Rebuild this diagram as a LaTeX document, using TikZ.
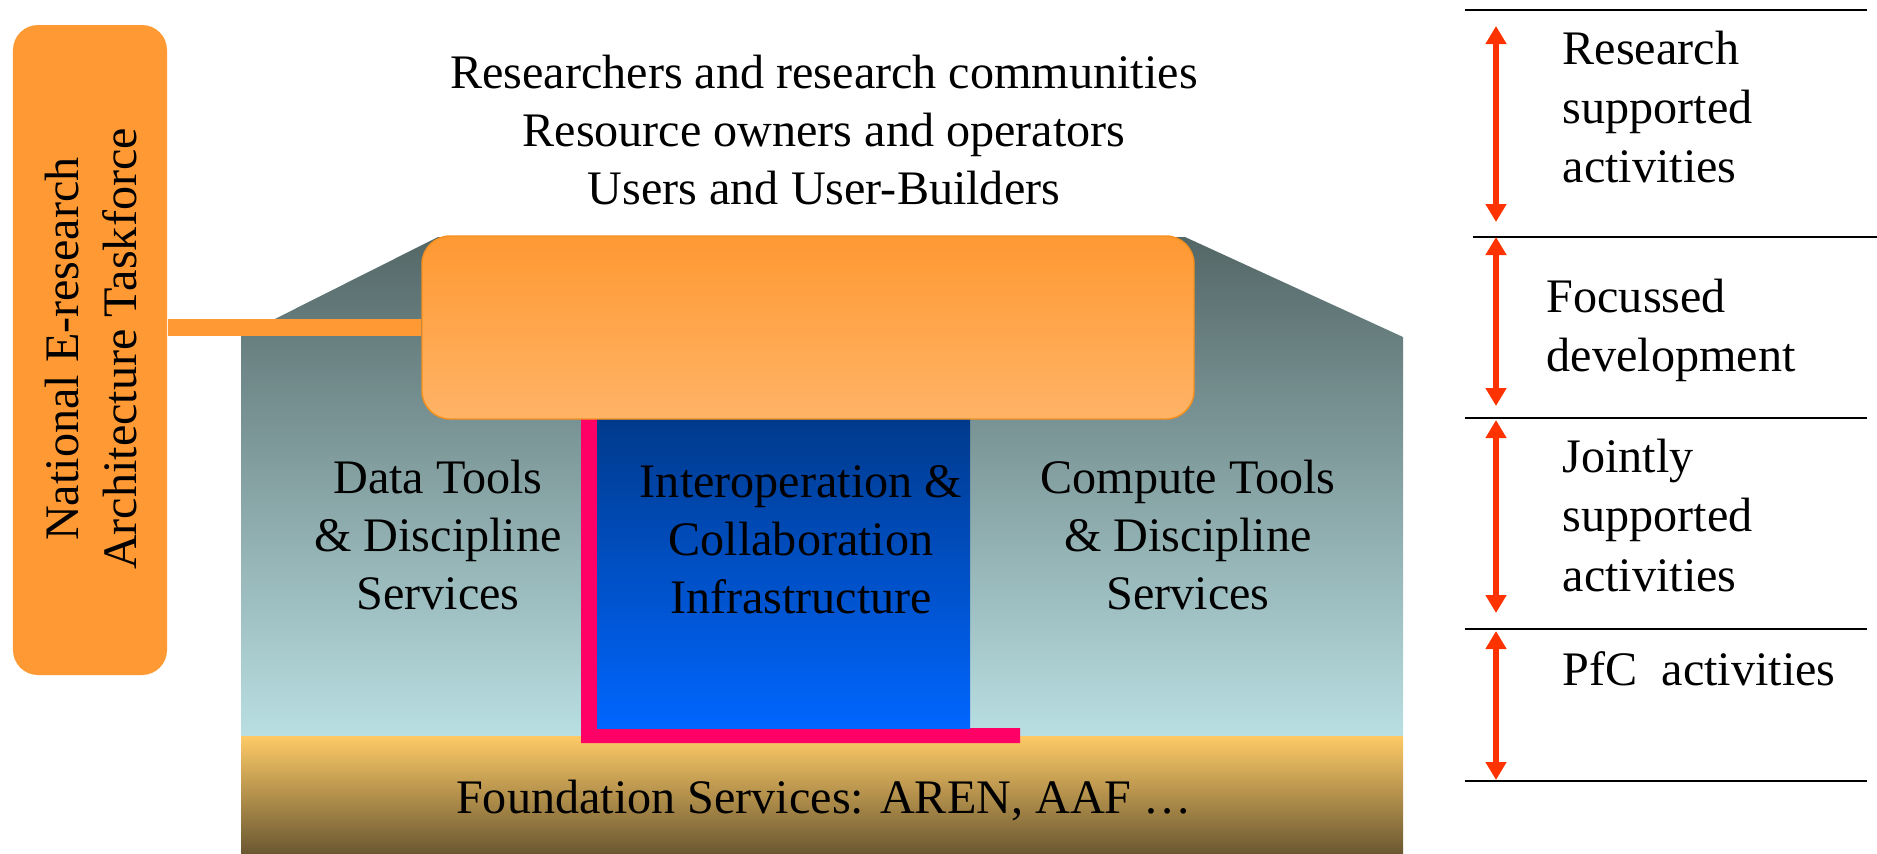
\documentclass[tikz,border=0pt]{standalone}
\usepackage{fontspec}
\setmainfont{Liberation Serif}
\usepackage{tikz}
\usetikzlibrary{calc,arrows.meta}

\definecolor{taskOrange}{HTML}{FF9933}
\definecolor{devTop}{HTML}{FF9933}
\definecolor{devBot}{HTML}{FFB366}
\definecolor{devEdge}{HTML}{F5901F}
\definecolor{wallTop}{HTML}{546767}
\definecolor{wallMid}{HTML}{96B3B5}
\definecolor{wallBot}{HTML}{B9DFE2}
\definecolor{baseTop}{HTML}{FDCA66}
\definecolor{baseMid}{HTML}{D2AA5E}
\definecolor{baseBot}{HTML}{6B5832}
\definecolor{blueTop}{HTML}{003A8C}
\definecolor{blueBot}{HTML}{0066FF}
\definecolor{pinkEdge}{HTML}{FF0066}
\definecolor{spanRed}{HTML}{FF3300}

\tikzset{
	housetext/.style={font=\fontsize{13.7}{16.5}\selectfont, align=center, inner sep=0pt},
	bandtext/.style={font=\fontsize{13.7}{16.8}\selectfont, align=left, anchor=west, inner sep=0pt},
	bandline/.style={line width=0.6pt},
	spanarrow/.style={draw=spanRed, line width=1.6pt,
		{Triangle[width=0.2cm,length=0.18cm]}-{Triangle[width=0.2cm,length=0.18cm]}},
	taskbox/.style={fill=taskOrange, rounded corners=0.25cm, minimum width=1.54cm, minimum height=6.5cm, inner sep=0pt},
	devbox/.style={top color=devTop, bottom color=devBot, draw=devEdge, line width=0.4pt,
		rounded corners=0.28cm, minimum width=7.72cm, minimum height=1.83cm, inner sep=0pt},
	bar/.style={draw=taskOrange, line width=0.17cm}
}

\begin{document}
\begin{tikzpicture}
	\useasboundingbox (0,0) rectangle (18.77,8.53);
	% Стены и крыша
	\shade[top color=wallTop, middle color=wallMid, bottom color=wallBot]
		(2.41,1.17) -- (2.41,5.17) -- (4.38,6.16) -- (11.85,6.16) -- (14.03,5.16) -- (14.03,1.17) -- cycle;
	% Фундамент
	\shade[top color=baseTop, middle color=baseMid, bottom color=baseBot] (2.41,0) rectangle (14.03,1.17);
	% Колонна
	\fill[pinkEdge] (5.81,4.34) -- (5.97,4.34) -- (5.97,1.25) -- (10.20,1.25) -- (10.20,1.10) -- (5.81,1.10) -- cycle;
	\shade[top color=blueTop, bottom color=blueBot] (5.97,1.25) rectangle (9.70,4.34);
	% Блоки
	\node[devbox] (dev) at (8.08,5.255) {};
	\node[taskbox] (task) at (0.90,5.03) {};
	\draw[bar] (task.east |- dev.west) -- (dev.west);
	\node[housetext, rotate=90] (tasklabel) at (0.91,5.04) {National E-research\\Architecture Taskforce};
	% Подписи
	\node[housetext, font=\fontsize{13.7}{16.4}\selectfont] (people) at (8.24,7.23)
		{Researchers and research communities\\Resource owners and operators\\Users and User-Builders};
	\node[housetext] (datatools) at (4.38,3.18) {Data Tools\\\& Discipline\\Services};
	\node[housetext] (interop) at (8.01,3.13) {Interoperation \&\\Collaboration\\Infrastructure};
	\node[housetext] (computetools) at (11.88,3.18) {Compute Tools\\\& Discipline\\Services};
	\node[housetext, anchor=base] (foundation) at (8.24,0.40) {Foundation Services: AREN, AAF …};
	% Шкала справа
	\coordinate (b1) at (14.65,8.43);
	\coordinate (b2) at (14.73,6.16);
	\coordinate (b3) at (14.65,4.35);
	\coordinate (b4) at (14.65,2.24);
	\coordinate (b5) at (14.65,0.72);
	\draw[bandline] (b1) -- ++(4.02,0);
	\draw[bandline] (b2) -- ++(4.04,0);
	\draw[bandline] (b3) -- ++(4.02,0);
	\draw[bandline] (b4) -- ++(4.02,0);
	\draw[bandline] (b5) -- ++(4.02,0);
	\coordinate (s1t) at (14.96,8.27);
	\coordinate (s1b) at (14.96,6.31);
	\coordinate (s2t) at (14.96,6.16);
	\coordinate (s2b) at (14.96,4.47);
	\coordinate (s3t) at (14.96,4.33);
	\coordinate (s3b) at (14.96,2.40);
	\coordinate (s4t) at (14.96,2.22);
	\coordinate (s4b) at (14.96,0.73);
	\draw[spanarrow] (s1t) -- (s1b);
	\draw[spanarrow] (s2t) -- (s2b);
	\draw[spanarrow] (s3t) -- (s3b);
	\draw[spanarrow] (s4t) -- (s4b);
	\node[bandtext] (research) at (15.62,7.46) {Research\\supported\\activities};
	\node[bandtext] (focussed) at (15.46,5.23) {Focussed\\development};
	\node[bandtext] (jointly) at (15.62,3.375) {Jointly\\supported\\activities};
	\node[bandtext, anchor=base west] (pfc) at (15.62,1.68) {PfC~ activities};
\end{tikzpicture}
\end{document}
